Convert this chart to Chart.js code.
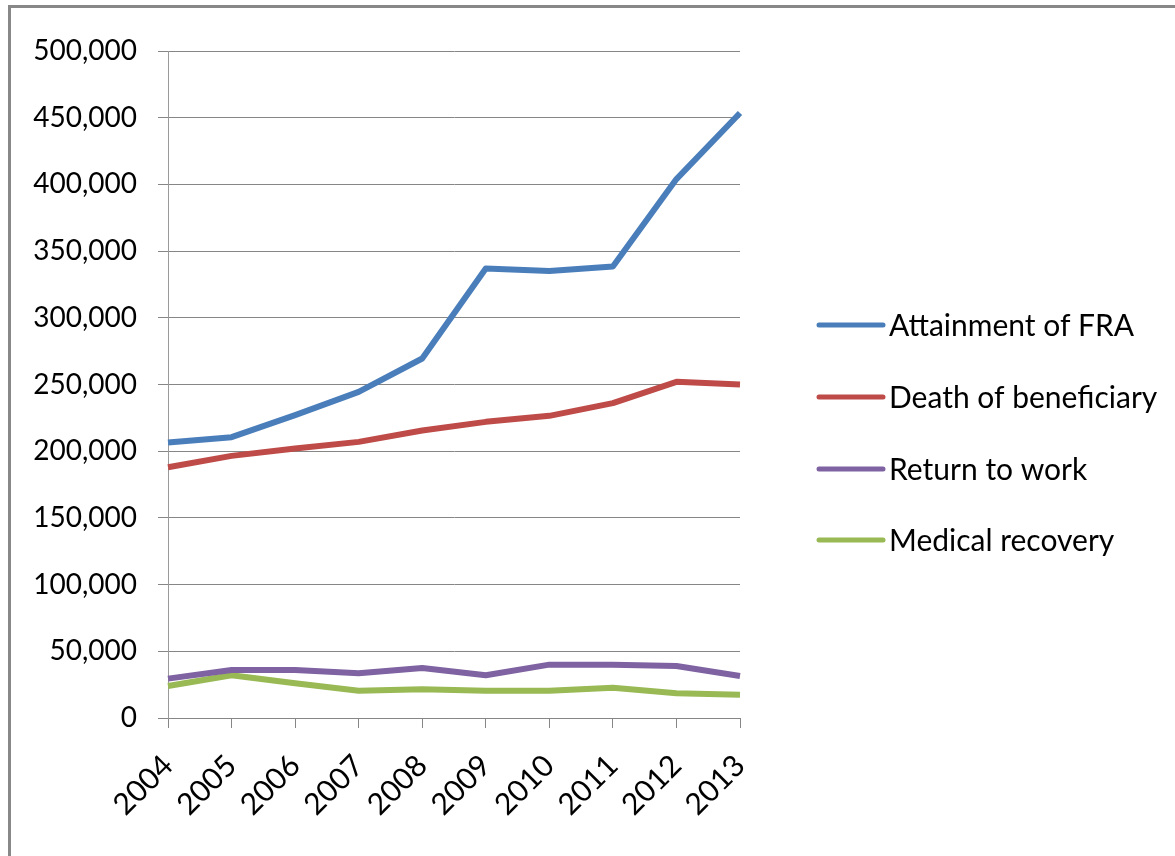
<!DOCTYPE html>
<html>
<head>
<meta charset="utf-8">
<script src="https://cdn.jsdelivr.net/npm/chart.js@4.4.1/dist/chart.umd.min.js"></script>
<style>
  html, body { margin: 0; padding: 0; background: #fff; }
  #wrap { position: relative; width: 1175px; height: 856px; overflow: hidden; }
  #frame { position: absolute; left: 8px; top: 5px; width: 1200px; height: 900px;
           border-top: 3px solid #888; border-left: 3px solid #888; box-sizing: border-box; pointer-events: none; }
  canvas { position: absolute; left: 0; top: 0; }
</style>
</head>
<body>
<div id="wrap">
  <canvas id="c" width="1175" height="856"></canvas>
  <div id="frame"></div>
</div>
<script>
const years = ['2004','2005','2006','2007','2008','2009','2010','2011','2012','2013'];
const attainmentFRA = [206500, 210500, 227000, 244500, 269500, 337000, 335000, 338500, 404000, 453500];
const deathOfBeneficiary = [188000, 196500, 202000, 207000, 215500, 222000, 226500, 236000, 252000, 250000];
const returnToWork = [29500, 36000, 36000, 33500, 37500, 32000, 40000, 40000, 39000, 31500];
const medicalRecovery = [24000, 32000, 26000, 20500, 21500, 20500, 20500, 22700, 18500, 17500];
const seriesLabels = ['Attainment of FRA', 'Death of beneficiary', 'Return to work', 'Medical recovery'];
const seriesColors = ['#4a7ebb', '#be4b48', '#7e62a1', '#98b954'];
const yTicks = [0, 50000, 100000, 150000, 200000, 250000, 300000, 350000, 400000, 450000, 500000];

const FONT = 'Lato, "Liberation Sans", sans-serif';

const legendPlugin = {
  id: 'customLegend',
  afterDraw(chart) {
    const ctx = chart.ctx;
    const ys = [325, 397, 469, 540];
    ctx.save();
    chart.data.datasets.forEach((ds, i) => {
      const y = ys[i];
      ctx.strokeStyle = ds.borderColor;
      ctx.lineWidth = 5;
      ctx.lineCap = 'round';
      ctx.beginPath();
      ctx.moveTo(819, y);
      ctx.lineTo(883, y);
      ctx.stroke();
      ctx.fillStyle = '#000';
      ctx.font = '30px ' + FONT;
      ctx.textAlign = 'left';
      ctx.textBaseline = 'middle';
      ctx.fillText(ds.label, 889, y + 1);
    });
    ctx.restore();
  }
};

const datasets = [attainmentFRA, deathOfBeneficiary, returnToWork, medicalRecovery].map((d, i) => ({
  label: seriesLabels[i],
  data: d,
  borderColor: seriesColors[i],
  backgroundColor: seriesColors[i],
  borderWidth: 6,
  pointRadius: 0,
  tension: 0,
  borderJoinStyle: 'round',
  fill: false
}));

new Chart(document.getElementById('c'), {
  type: 'line',
  data: { labels: years, datasets: datasets },
  plugins: [legendPlugin],
  options: {
    responsive: false,
    animation: false,
    layout: { padding: { top: 51, left: 0, right: 435, bottom: 0 } },
    plugins: { legend: { display: false }, tooltip: { enabled: false } },
    scales: {
      x: {
        offset: false,
        afterFit(scale) { scale.height = 138; },
        grid: { drawOnChartArea: false, drawTicks: true, tickLength: 10, color: '#868686', lineWidth: 1 },
        border: { color: '#868686', width: 1 },
        ticks: {
          color: '#000',
          font: { family: FONT, size: 30 },
          minRotation: 45, maxRotation: 45,
          padding: 20,
          autoSkip: false
        }
      },
      y: {
        min: 0, max: 500000,
        afterFit(scale) { scale.width = 168; },
        afterBuildTicks(scale) { scale.ticks = yTicks.map(v => ({ value: v })); },
        grid: { color: '#868686', lineWidth: 1, tickLength: 10, drawTicks: true },
        border: { color: '#9a9a9a', width: 1 },
        ticks: {
          color: '#000',
          font: { family: FONT, size: 28 },
          padding: 21,
          callback: v => v.toLocaleString('en-US')
        }
      }
    }
  }
});
</script>
</body>
</html>
